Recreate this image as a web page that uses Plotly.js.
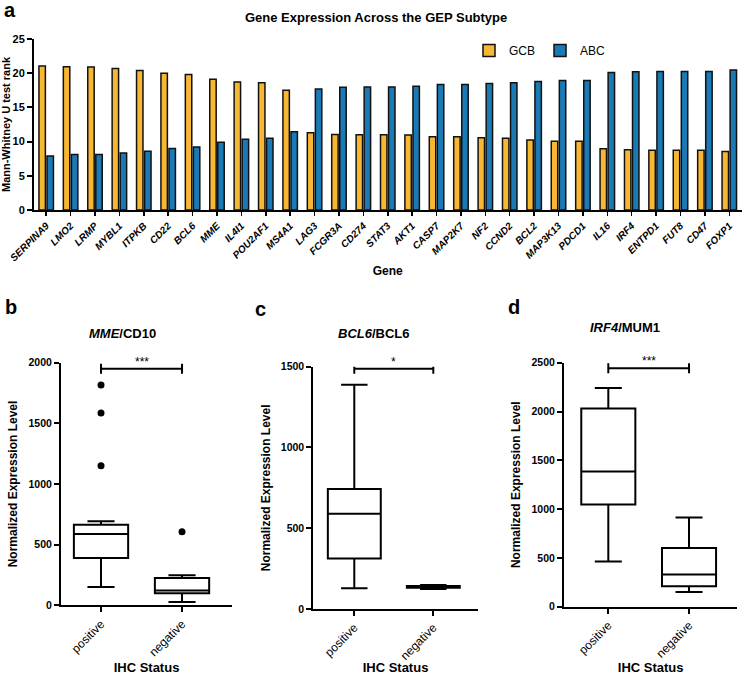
<!DOCTYPE html>
<html>
<head>
<meta charset="utf-8">
<script src="https://cdn.plot.ly/plotly-3.0.1.min.js"></script>
<style>html,body{margin:0;padding:0;background:#fff;}#chart{width:749px;height:675px;}</style>
</head>
<body>
<div id="chart"></div>
<script>
// ---- Panel a data ----
const genes = ["SERPINA9","LMO2","LRMP","MYBL1","ITPKB","CD22","BCL6","MME","IL4I1","POU2AF1","MS4A1","LAG3","FCGR3A","CD274","STAT3","AKT1","CASP7","MAP2K7","NF2","CCND2","BCL2","MAP3K13","PDCD1","IL16","IRF4","ENTPD1","FUT8","CD47","FOXP1"];
const gcbRank = [21.05,20.95,20.9,20.7,20.4,20.0,19.8,19.1,18.7,18.6,17.5,11.3,11.05,11.0,11.0,10.95,10.7,10.7,10.55,10.5,10.25,10.05,10.05,8.95,8.8,8.75,8.75,8.75,8.55];
const abcRank = [7.9,8.1,8.1,8.35,8.6,9.0,9.2,9.9,10.35,10.5,11.45,17.7,17.95,18.0,18.0,18.1,18.35,18.35,18.5,18.6,18.8,18.95,18.95,20.1,20.2,20.25,20.25,20.25,20.45];
const yTicksA = [0,5,10,15,20,25];

// ---- Box panels data ----
const ihc = ["positive","negative"];
// b: MME/CD10
const bLow = [151, 27], bQ1 = [390, 99], bMed = [588, 123], bQ3 = [664, 225], bUp = [692, 247];
const bOutX = ["positive","positive","positive","negative"], bOutY = [1151, 1585, 1816, 607];
// c: BCL6/BCL6
const cLow = [129, 124], cQ1 = [313, 131], cMed = [589, 137], cQ3 = [743, 143], cUp = [1388, 149];
// d: IRF4/MUM1
const dLow = [462, 150], dQ1 = [1048, 210], dMed = [1384, 329], dQ3 = [2031, 602], dUp = [2242, 915];
// significance
const sigText = ["***", "*", "***"];
const sigY = [1950, 1488, 2442];

const F = "Arial, 'Liberation Sans', sans-serif";
const YEL = "#F7B733", BLU = "#1A7AB5";

const traces = [
  {type:"bar", name:"GCB", x:genes, y:gcbRank, xaxis:"x", yaxis:"y",
   marker:{color:YEL, line:{color:"#111", width:1.5}}},
  {type:"bar", name:"ABC", x:genes, y:abcRank, xaxis:"x", yaxis:"y",
   marker:{color:BLU, line:{color:"#111", width:1.5}}},
  {type:"box", x:ihc, q1:bQ1, median:bMed, q3:bQ3, lowerfence:bLow, upperfence:bUp,
   xaxis:"x2", yaxis:"y2", boxpoints:false, fillcolor:"#fff", line:{color:"#000", width:2},
   width:0.67, whiskerwidth:0.5, showlegend:false, hoverinfo:"skip"},
  {type:"scatter", mode:"markers", x:bOutX, y:bOutY, xaxis:"x2", yaxis:"y2",
   marker:{color:"#000", size:7}, showlegend:false, hoverinfo:"skip"},
  {type:"box", x:ihc, q1:cQ1, median:cMed, q3:cQ3, lowerfence:cLow, upperfence:cUp,
   xaxis:"x3", yaxis:"y3", boxpoints:false, fillcolor:"#fff", line:{color:"#000", width:2},
   width:0.67, whiskerwidth:0.5, showlegend:false, hoverinfo:"skip"},
  {type:"box", x:ihc, q1:dQ1, median:dMed, q3:dQ3, lowerfence:dLow, upperfence:dUp,
   xaxis:"x4", yaxis:"y4", boxpoints:false, fillcolor:"#fff", line:{color:"#000", width:2},
   width:0.67, whiskerwidth:0.5, showlegend:false, hoverinfo:"skip"}
];

const W = 749, H = 675;
const px = v => v / W, py = v => 1 - v / H;

function boxX(d0, d1, rng) {
  return {domain:[d0, d1], type:"category", range:rng, showline:true, linecolor:"#000", linewidth:2,
    ticks:"outside", ticklen:5, tickwidth:2, tickcolor:"#000", tickangle:-45,
    tickfont:{family:F, size:12, color:"#000"}, showgrid:false, zeroline:false, fixedrange:true,
    title:{text:"IHC Status", font:{family:F, size:13, color:"#000", weight:"bold"}, standoff:5}};
}
function boxY(d0, d1, maxv, dt) {
  return {domain:[d0, d1], range:[0, maxv], tick0:0, dtick:dt, showline:true, linecolor:"#000", linewidth:2,
    ticks:"outside", ticklen:5, tickwidth:2, tickcolor:"#000",
    tickfont:{family:F, size:10.5, color:"#000", weight:"bold"}, showgrid:false, zeroline:false,
    title:{text:"Normalized Expression Level", font:{family:F, size:12, color:"#000", weight:"bold"}, standoff:8}};
}

const shapes = [];
const annots = [];
[["x2","y2"],["x3","y3"],["x4","y4"]].forEach((ax, i) => {
  const yv = sigY[i];
  shapes.push({type:"line", xref:ax[0], yref:ax[1], x0:0, x1:1, y0:yv, y1:yv, line:{color:"#000", width:2}});
  shapes.push({type:"line", xref:ax[0], yref:ax[1], ysizemode:"pixel", yanchor:yv, x0:0, x1:0, y0:-5, y1:5, line:{color:"#000", width:2}});
  shapes.push({type:"line", xref:ax[0], yref:ax[1], ysizemode:"pixel", yanchor:yv, x0:1, x1:1, y0:-5, y1:5, line:{color:"#000", width:2}});
  annots.push({xref:ax[0], yref:ax[1], x:0.5, y:yv, text:sigText[i], showarrow:false, yshift:7,
    font:{family:F, size:12, color:"#000"}});
});

// panel letters and titles
const lab = (t, x, y, s) => ({xref:"paper", yref:"paper", x:px(x), y:py(y), text:t, showarrow:false,
  xanchor:"center", yanchor:"middle", font:{family:F, size:s, color:"#000", weight:"bold"}});
annots.push(lab("a", 10, 10, 20));
annots.push(lab("b", 11, 307, 20));
annots.push(lab("c", 260, 309, 20));
annots.push(lab("d", 514, 307, 20));
annots.push(lab("Gene Expression Across the GEP Subtype", 376, 17, 13));
annots.push(lab("<i>MME</i>/CD10", 122, 333, 13));
annots.push(lab("<i>BCL6</i>/BCL6", 374, 333, 13));
annots.push(lab("<i>IRF4</i>/MUM1", 625, 328, 13));

const layout = {
  width:W, height:H, margin:{l:0, r:0, t:0, b:0}, paper_bgcolor:"#fff", plot_bgcolor:"#fff",
  font:{family:F, color:"#000"},
  barmode:"group", bargap:0.34, bargroupgap:0.2,
  showlegend:true,
  legend:{orientation:"h", x:px(469), y:py(36), xanchor:"left", yanchor:"top",
    font:{family:F, size:12, color:"#000"}, itemwidth:30, bgcolor:"rgba(0,0,0,0)"},
  xaxis:{domain:[px(34), px(741.5)], type:"category", range:[-0.5, 28.5], showline:true, linecolor:"#000", linewidth:2,
    ticks:"outside", ticklen:4, tickwidth:1.5, tickcolor:"#000", tickangle:-45,
    tickfont:{family:F, size:10, color:"#000", weight:"bold", style:"italic"}, showgrid:false, zeroline:false,
    title:{text:"Gene", font:{family:F, size:12, color:"#000", weight:"bold"}, standoff:4}},
  yaxis:{domain:[py(210), py(39)], range:[0, 25], tickvals:yTicksA, showline:true, linecolor:"#000", linewidth:2,
    ticks:"outside", ticklen:5, tickwidth:2, tickcolor:"#000",
    tickfont:{family:F, size:11, color:"#000", weight:"bold"}, showgrid:false, zeroline:false,
    title:{text:"Mann-Whitney U test rank", font:{family:F, size:11, color:"#000", weight:"bold"}, standoff:4}},
  xaxis2:Object.assign(boxX(px(61), px(232), [-0.494, 1.617]), {anchor:"y2"}),
  yaxis2:Object.assign(boxY(py(605.3), py(362.7), 2000, 500), {anchor:"x2"}),
  xaxis3:Object.assign(boxX(px(313.3), px(477.7), [-0.519, 1.562]), {anchor:"y3"}),
  yaxis3:Object.assign(boxY(py(609), py(366.7), 1500, 500), {anchor:"x3"}),
  xaxis4:Object.assign(boxX(px(564), px(737.3), [-0.549, 1.598]), {anchor:"y4"}),
  yaxis4:Object.assign(boxY(py(606.7), py(362.7), 2500, 500), {anchor:"x4"}),
  shapes:shapes, annotations:annots
};

Plotly.newPlot("chart", traces, layout, {staticPlot:true, displayModeBar:false});
</script>
</body>
</html>
